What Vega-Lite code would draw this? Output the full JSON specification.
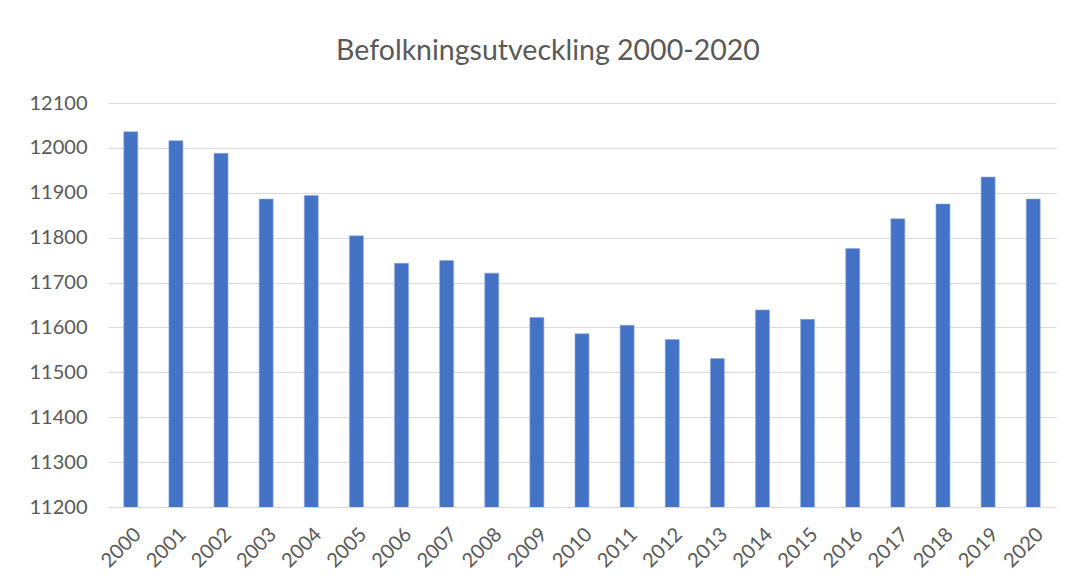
{
  "$schema": "https://vega.github.io/schema/vega-lite/v6.json",
  "autosize": {"type": "none"},
  "width": 948,
  "height": 404,
  "padding": {"left": 108, "top": 103, "right": 19, "bottom": 80},
  "background": "white",
  "title": {
    "text": "Befolkningsutveckling 2000-2020",
    "font": "Lato",
    "fontSize": 28.5,
    "fontWeight": "normal",
    "color": "#595959",
    "offset": 28,
    "dx": -34
  },
  "data": {
    "values": [
      {"year": "2000", "pop": 12036},
      {"year": "2001", "pop": 12016},
      {"year": "2002", "pop": 11988},
      {"year": "2003", "pop": 11886},
      {"year": "2004", "pop": 11894},
      {"year": "2005", "pop": 11804},
      {"year": "2006", "pop": 11743},
      {"year": "2007", "pop": 11749},
      {"year": "2008", "pop": 11721},
      {"year": "2009", "pop": 11622},
      {"year": "2010", "pop": 11586},
      {"year": "2011", "pop": 11605},
      {"year": "2012", "pop": 11573},
      {"year": "2013", "pop": 11531},
      {"year": "2014", "pop": 11639},
      {"year": "2015", "pop": 11618},
      {"year": "2016", "pop": 11776},
      {"year": "2017", "pop": 11842},
      {"year": "2018", "pop": 11875},
      {"year": "2019", "pop": 11935},
      {"year": "2020", "pop": 11886}
    ]
  },
  "mark": {"type": "bar", "color": "#4472C4", "stroke": "#8FAADC", "strokeWidth": 0.6, "clip": true},
  "encoding": {
    "x": {
      "field": "year",
      "type": "ordinal",
      "scale": {"paddingInner": 0.69, "paddingOuter": 0.35},
      "axis": {
        "title": null,
        "labelAngle": -45,
        "labelFont": "Lato",
        "labelFontSize": 20,
        "labelColor": "#595959",
        "ticks": false,
        "domainColor": "#d9d9d9",
        "labelPadding": 17,
        "grid": false
      }
    },
    "y": {
      "field": "pop",
      "type": "quantitative",
      "scale": {"domain": [11200, 12100], "zero": false, "nice": false},
      "axis": {
        "title": null,
        "values": [11200, 11300, 11400, 11500, 11600, 11700, 11800, 11900, 12000, 12100],
        "format": "d",
        "labelFont": "Lato",
        "labelFontSize": 20,
        "labelColor": "#595959",
        "labelPadding": 21,
        "ticks": false,
        "domain": false,
        "grid": true,
        "gridColor": "#d9d9d9",
        "gridWidth": 1
      }
    }
  },
  "config": {"view": {"stroke": null}}
}
